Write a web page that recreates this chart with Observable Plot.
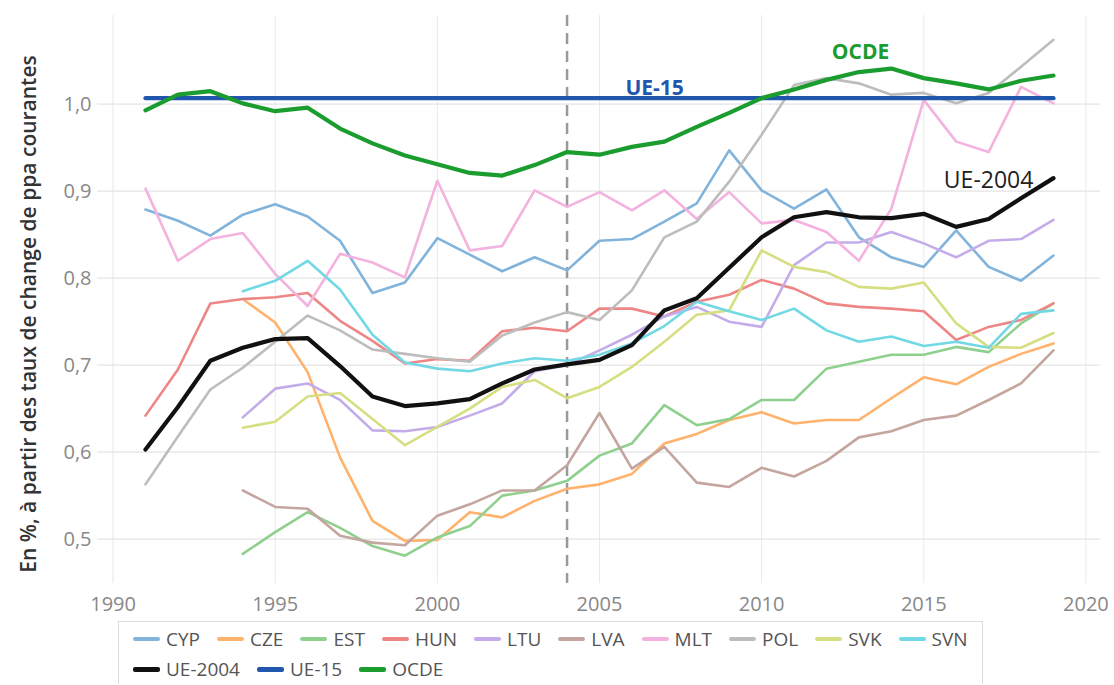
<!DOCTYPE html>
<html>
<head>
<meta charset="utf-8">
<script src="https://cdn.jsdelivr.net/npm/d3@7"></script>
<script src="https://cdn.jsdelivr.net/npm/@observablehq/plot@0.6"></script>
<style>
  body { margin: 0; background: #fff; font-family: "Open Sans", sans-serif; }
  #chart { position: relative; width: 1114px; height: 685px; overflow: hidden; }
  .legend { position: absolute; left: 118px; top: 621px; border: 1px solid #dcdcdc; border-bottom: none; padding: 2px 14px 0 14px; }
  .row { display: flex; gap: 17px; height: 30px; align-items: center; }
  .item { display: flex; align-items: center; gap: 6px; font-size: 19px; line-height: 22px; color: #555; }
  .sw { width: 27px; border-radius: 2px; }
</style>
</head>
<body>
<div id="chart"></div>
<script>
const years = d3.range(1991, 2020);
const countries = ["CYP","CZE","EST","HUN","LTU","LVA","MLT","POL","SVK","SVN"];
const aggregates = ["UE-2004","UE-15","OCDE"];
const xTicks = [1990, 1995, 2000, 2005, 2010, 2015, 2020];
const yTicks = [0.5, 0.6, 0.7, 0.8, 0.9, 1.0];
const markerYear = [2004];

const CYP = [0.879,0.866,0.849,0.873,0.885,0.871,0.843,0.783,0.795,0.846,0.827,0.808,0.824,0.809,0.843,0.845,0.865,0.886,0.947,0.901,0.880,0.902,0.847,0.824,0.813,0.855,0.813,0.797,0.826];
const CZE = [null,null,null,0.776,0.749,0.692,0.594,0.521,0.498,0.499,0.531,0.525,0.544,0.558,0.563,0.575,0.610,0.621,0.637,0.646,0.633,0.637,0.637,0.662,0.686,0.678,0.698,0.713,0.725];
const EST = [null,null,null,0.483,0.508,0.531,0.513,0.492,0.481,0.502,0.515,0.550,0.556,0.567,0.596,0.610,0.654,0.631,0.638,0.660,0.660,0.696,0.704,0.712,0.712,0.721,0.715,0.748,0.771];
const HUN = [0.642,0.695,0.771,0.776,0.778,0.783,0.751,0.728,0.702,0.707,0.705,0.739,0.743,0.739,0.765,0.765,0.756,0.773,0.781,0.798,0.788,0.771,0.767,0.765,0.762,0.729,0.744,0.752,0.771];
const LTU = [null,null,null,0.640,0.673,0.679,0.660,0.625,0.624,0.629,0.642,0.656,0.693,0.700,0.717,0.735,0.756,0.767,0.750,0.744,0.815,0.841,0.841,0.853,0.840,0.824,0.843,0.845,0.867];
const LVA = [null,null,null,0.556,0.537,0.535,0.504,0.496,0.493,0.527,0.540,0.556,0.556,0.585,0.645,0.581,0.606,0.565,0.560,0.582,0.572,0.590,0.617,0.624,0.637,0.642,0.660,0.679,0.717];
const MLT = [0.903,0.820,0.845,0.852,0.805,0.768,0.828,0.818,0.801,0.912,0.832,0.837,0.901,0.882,0.899,0.878,0.901,0.868,0.899,0.863,0.867,0.853,0.820,0.880,1.005,0.957,0.945,1.020,1.001];
const POL = [0.563,0.618,0.672,0.697,0.727,0.757,0.740,0.718,0.713,0.708,0.704,0.734,0.749,0.761,0.752,0.786,0.847,0.865,0.911,0.965,1.022,1.030,1.024,1.011,1.013,1.001,1.013,1.043,1.074];
const SVK = [null,null,null,0.628,0.635,0.664,0.668,0.638,0.608,0.629,0.650,0.675,0.683,0.662,0.675,0.698,0.727,0.758,0.763,0.832,0.813,0.807,0.790,0.788,0.795,0.748,0.721,0.720,0.737];
const SVN = [null,null,null,0.785,0.797,0.820,0.787,0.735,0.703,0.696,0.693,0.702,0.708,0.705,0.712,0.725,0.745,0.773,0.762,0.752,0.765,0.740,0.727,0.733,0.722,0.727,0.720,0.759,0.763];
const UE2004 = [0.603,0.652,0.705,0.720,0.730,0.731,0.699,0.664,0.653,0.656,0.661,0.679,0.695,0.701,0.706,0.723,0.763,0.777,0.812,0.847,0.870,0.876,0.870,0.869,0.874,0.859,0.868,0.892,0.915];
const UE15 = [1.007,1.007,1.007,1.007,1.007,1.007,1.007,1.007,1.007,1.007,1.007,1.007,1.007,1.007,1.007,1.007,1.007,1.007,1.007,1.007,1.007,1.007,1.007,1.007,1.007,1.007,1.007,1.007,1.007];
const OCDE = [0.993,1.011,1.015,1.001,0.992,0.996,0.972,0.955,0.941,0.931,0.921,0.918,0.930,0.945,0.942,0.951,0.957,0.974,0.990,1.007,1.017,1.028,1.037,1.041,1.030,1.024,1.017,1.027,1.033];

// annotation labels (year, value, text)
const labelYears = [2013.05, 2006.7, 2017.0];
const labelValues = [1.060, 1.018, 0.912];
const labelTexts = ["OCDE", "UE-15", "UE-2004"];

const countryColors = ["#82b4db","#ffb26c","#8fd08f","#ef8686","#c4acea","#c4a59f","#f4b2df","#bdbdbd","#d6de82","#72d8e4"];
const aggColors = ["#111111","#2057ad","#1a9c2e"];

const seriesMap = {CYP, CZE, EST, HUN, LTU, LVA, MLT, POL, SVK, SVN, "UE-2004": UE2004, "UE-15": UE15, OCDE};
function rows(name) {
  return years.map((year, i) => ({year, value: seriesMap[name][i], name})).filter(d => d.value != null);
}
const thin = countries.flatMap(rows);
const labels = labelTexts.map((t, i) => ({year: labelYears[i], value: labelValues[i], text: t, color: aggColors[i === 0 ? 2 : i === 1 ? 1 : 0]}));

const font = "Open Sans";
const plot = Plot.plot({
  width: 1114,
  height: 618,
  marginLeft: 97,
  marginRight: 14,
  marginTop: 15,
  marginBottom: 35,
  style: {fontFamily: font, background: "#fff"},
  x: {domain: [1989.52, 2020.45]},
  y: {domain: [0.449, 1.102]},
  color: {domain: [...countries, ...aggregates], range: [...countryColors, ...aggColors]},
  marks: [
    Plot.gridX(xTicks, {stroke: "#e9e9e9", strokeOpacity: 1, strokeWidth: 1}),
    Plot.gridY(yTicks, {stroke: "#e4e4e4", strokeOpacity: 1, strokeWidth: 1.2}),
    Plot.axisX(xTicks, {tickSize: 0, tickPadding: 13, fontSize: 20, fill: "#888", tickFormat: d => String(d), label: null}),
    Plot.axisY(yTicks, {tickSize: 0, tickPadding: 6, fontSize: 20, fill: "#888", tickFormat: d => d.toFixed(1).replace(".", ","), label: null}),
    Plot.ruleX(markerYear, {stroke: "#9a9a9a", strokeWidth: 2.5, strokeDasharray: "11,7"}),
    Plot.line(thin, {x: "year", y: "value", z: "name", stroke: "name", strokeWidth: 2.6}),
    Plot.line(rows("UE-15"), {x: "year", y: "value", stroke: "name", strokeWidth: 4.2}),
    Plot.line(rows("OCDE"), {x: "year", y: "value", stroke: "name", strokeWidth: 4.2}),
    Plot.line(rows("UE-2004"), {x: "year", y: "value", stroke: "name", strokeWidth: 4.2}),
    Plot.text(labels.filter(d => d.text !== "UE-2004"), {x: "year", y: "value", text: "text", fill: "color", fontSize: 21, fontWeight: 700}),
    Plot.text(labels.filter(d => d.text === "UE-2004"), {x: "year", y: "value", text: "text", fill: "#222", fontSize: 23})
  ]
});

const chart = document.getElementById("chart");
chart.appendChild(plot);

// y-axis title
const svg = d3.select(plot);
svg.append("text")
  .attr("transform", "translate(30,314) rotate(-90)")
  .attr("text-anchor", "middle")
  .attr("dominant-baseline", "middle")
  .attr("font-family", font)
  .attr("font-size", 21)
  .attr("font-weight", 600)
  .attr("fill", "#333")
  .text("En %, à partir des taux de change de ppa courantes");

// legend
const legend = document.createElement("div");
legend.className = "legend";
const color = plot.scale("color");
[countries, aggregates].forEach((group, gi) => {
  const row = document.createElement("div");
  row.className = "row";
  group.forEach(name => {
    const item = document.createElement("div");
    item.className = "item";
    const sw = document.createElement("div");
    sw.className = "sw";
    sw.style.height = gi === 1 ? "5px" : "4px";
    sw.style.background = color.apply(name);
    const t = document.createElement("span");
    t.textContent = name;
    item.appendChild(sw);
    item.appendChild(t);
    row.appendChild(item);
  });
  legend.appendChild(row);
});
chart.appendChild(legend);
</script>
</body>
</html>
